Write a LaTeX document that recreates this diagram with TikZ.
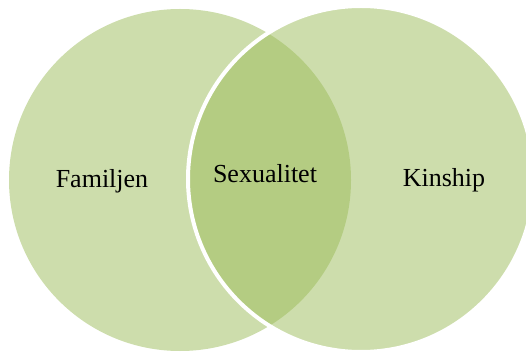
\documentclass[tikz,border=0pt]{standalone}
\usepackage{fontspec}
\setmainfont{Liberation Serif}
\definecolor{vgreen}{HTML}{9BBB59}
\begin{document}
\begin{tikzpicture}[x=1pt,y=-1pt,
  venn/.style={circle, inner sep=0pt, fill=vgreen, fill opacity=0.5},
  lbl/.style={anchor=base, inner sep=0pt, font=\fontsize{26}{30}\selectfont, text=black}]
\useasboundingbox (0,0) rectangle (526,352);
\node[venn, minimum size=342pt] (left) at (180,180) {};
\node[venn, minimum size=346pt, draw=white, draw opacity=1, line width=4pt] (right) at (361,179) {};
\node[lbl] (fam) at (102,188) {Familjen};
\node[lbl] (sex) at (265,183) {Sexualitet};
\node[lbl] (kin) at (444,187) {Kinship};
\end{tikzpicture}
\end{document}
